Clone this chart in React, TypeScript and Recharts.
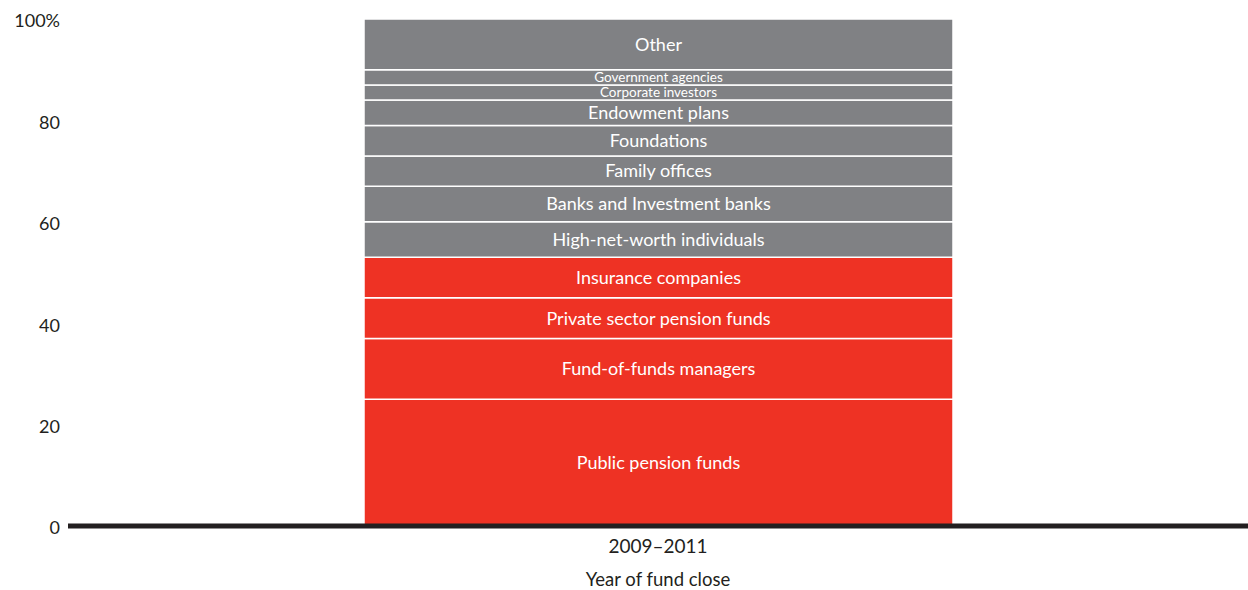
import React from 'react'
import { BarChart, Bar, XAxis, YAxis, LabelList } from 'recharts'

const categories = ['2009–2011']

// bottom to top
const segments = [
  'Public pension funds',
  'Fund-of-funds managers',
  'Private sector pension funds',
  'Insurance companies',
  'High-net-worth individuals',
  'Banks and Investment banks',
  'Family offices',
  'Foundations',
  'Endowment plans',
  'Corporate investors',
  'Government agencies',
  'Other',
]

const shares = [25, 12, 8, 8, 7, 7, 6, 6, 5, 3, 3, 10]

const redGroup = ['Public pension funds', 'Fund-of-funds managers', 'Private sector pension funds', 'Insurance companies']
const smallLabels = ['Corporate investors', 'Government agencies']

const yTicks = [0, 20, 40, 60, 80, 100]

const data = categories.map((name) => {
  const row: Record<string, string | number> = { name }
  segments.forEach((s, i) => {
    row['s' + i] = shares[i]
  })
  return row
})

const font = 'Lato, "Open Sans", sans-serif'

export default function App() {
  return (
    <div style={{ position: 'absolute', left: 0, top: 0, width: 1248, height: 590, background: '#fff', fontFamily: font }}>
      <BarChart width={1248} height={590} data={data} margin={{ top: 19, right: 0, bottom: 24, left: 0 }}>
        <XAxis
          dataKey="name"
          axisLine={{ stroke: '#231f20', strokeWidth: 5 }}
          tickLine={false}
          tick={{ fill: '#231f20', fontSize: 19, fontFamily: font }}
          tickMargin={8}
          height={40}
          label={{ value: 'Year of fund close', position: 'insideBottom', offset: -20, fill: '#231f20', fontSize: 18.5, fontFamily: font }}
        />
        <YAxis
          domain={[0, 100]}
          ticks={yTicks}
          axisLine={false}
          tickLine={false}
          width={68}
          tickMargin={2}
          tick={{ fill: '#231f20', fontSize: 18, fontFamily: font, dy: 2 }}
          tickFormatter={(v: number) => (v === 100 ? '100%' : String(v))}
        />
        {segments.map((s, i) => (
          <Bar
            key={s}
            dataKey={'s' + i}
            name={s}
            stackId="a"
            barSize={589}
            fill={redGroup.includes(s) ? '#ee3224' : '#808184'}
            stroke="#ffffff"
            strokeWidth={1.5}
            isAnimationActive={false}
          >
            <LabelList
              dataKey={'s' + i}
              position="center"
              formatter={() => s}
              fill="#ffffff"
              fontSize={smallLabels.includes(s) ? 13.5 : 18}
              fontFamily={font}
            />
          </Bar>
        ))}
      </BarChart>
    </div>
  )
}
